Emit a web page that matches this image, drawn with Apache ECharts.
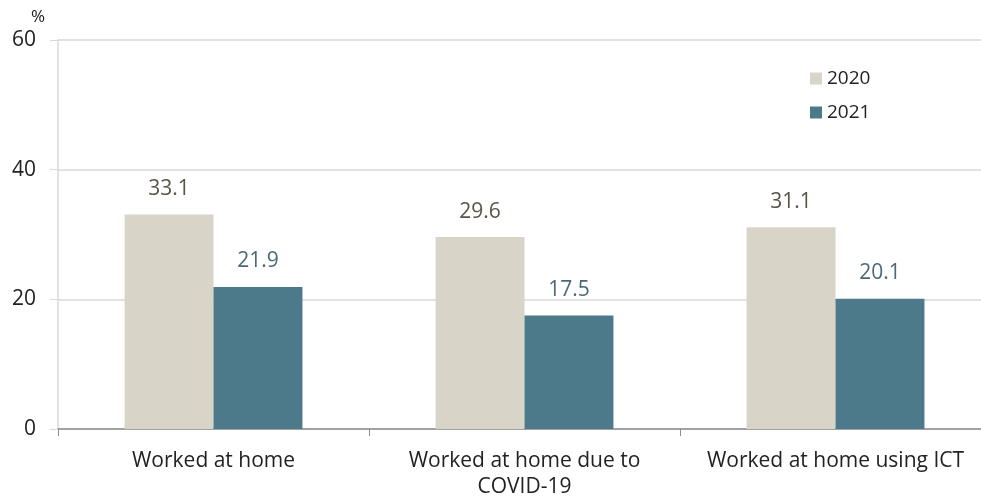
<!DOCTYPE html>
<html>
<head>
<meta charset="utf-8">
<script src="https://cdn.jsdelivr.net/npm/echarts@6/dist/echarts.min.js"></script>
<style>
  html, body { margin: 0; padding: 0; background: #fff; }
</style>
</head>
<body>
<div id="myChart" style="width: 981px; height: 501px;"></div>
<script>
// data
var categories = ["Worked at home", "Worked at home due to\nCOVID-19", "Worked at home using ICT"];
var values2020 = [33.1, 29.6, 31.1];
var values2021 = [21.9, 17.5, 20.1];
var yTicks = [0, 20, 40, 60];

var font = "Open Sans";
var myChart = echarts.init(document.getElementById("myChart"));
myChart.setOption({
  animation: false,
  textStyle: { fontFamily: font },
  legend: {
    orient: "vertical",
    left: 810,
    top: 69,
    padding: 0,
    itemWidth: 12,
    itemHeight: 12,
    itemGap: 15,
    icon: "rect",
    textStyle: { fontSize: 19, color: "#222", fontFamily: font },
    data: ["2020", "2021"]
  },
  grid: {
    left: 58,
    top: 40,
    width: 933,
    height: 389,
    containLabel: false,
    outerBoundsMode: "none"
  },
  xAxis: {
    type: "category",
    data: categories,
    axisLine: { lineStyle: { color: "#8c8c8c", width: 1.5 } },
    axisTick: { show: true, interval: 0, length: 7, lineStyle: { color: "#8c8c8c" } },
    axisLabel: { interval: 0, hideOverlap: false, fontSize: 21, color: "#222", margin: 19, lineHeight: 26, fontFamily: font }
  },
  yAxis: {
    type: "value",
    min: yTicks[0],
    max: yTicks[yTicks.length - 1],
    interval: 20,
    name: "%",
    nameLocation: "end",
    nameGap: 14,
    nameTextStyle: { fontSize: 17, color: "#222", align: "right", padding: [0, 13, 0, 0] },
    axisLine: { show: true, lineStyle: { color: "#d9d9d9", width: 1.5 } },
    axisTick: { show: true, length: 8, lineStyle: { color: "#d9d9d9" } },
    axisLabel: { fontSize: 21, color: "#222", margin: 22, fontFamily: font },
    splitLine: { lineStyle: { color: "#d9d9d9", width: 1.5 } }
  },
  series: [
    {
      name: "2020",
      type: "bar",
      data: values2020,
      barGap: "0%",
      barCategoryGap: "42.8%",
      itemStyle: { color: "#d8d4c8" },
      label: { show: true, position: "top", distance: 15, fontSize: 21, color: "#5a5444", fontFamily: font }
    },
    {
      name: "2021",
      type: "bar",
      data: values2021,
      itemStyle: { color: "#4d7a8a" },
      label: { show: true, position: "top", distance: 15, fontSize: 21, color: "#4a6a78", fontFamily: font }
    }
  ]
});
</script>
</body>
</html>
